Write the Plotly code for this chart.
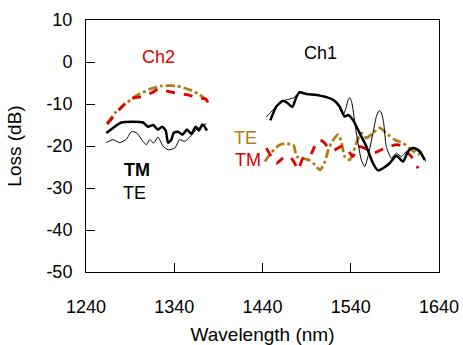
import plotly.graph_objects as go

# ---- data ----
ch2_tm_x = [1263.0, 1270.6, 1280.0, 1293.3, 1304.6, 1310.3, 1316.0, 1321.6, 1326.1, 1330.3, 1333.0, 1336.7,
            1339.3, 1344.2, 1349.2, 1354.4, 1359.4, 1364.3, 1368.0, 1371.9, 1377.1]
ch2_tm_y = [-16.9, -15.7, -14.4, -14.2, -14.4, -15.4, -15.0, -16.1, -15.4, -16.3, -19.2, -18.5,
            -16.9, -16.6, -17.3, -16.1, -17.1, -15.4, -16.3, -14.9, -16.3]

ch2_te_x = [1263.0, 1270.6, 1278.0, 1285.7, 1291.4, 1297.0, 1304.6, 1308.4, 1312.1, 1316.7, 1321.6, 1327.2,
            1333.0, 1340.5, 1346.1, 1351.8, 1357.5, 1365.0, 1376.4]
ch2_te_y = [-19.2, -18.5, -19.2, -18.4, -16.6, -16.8, -18.9, -19.7, -18.5, -19.3, -17.9, -20.0,
            -20.9, -20.5, -18.5, -18.9, -17.9, -16.1, -14.7]

ch2_te_dd_x = [1263.8, 1274.4, 1285.7, 1298.9, 1312.1, 1325.4, 1342.4, 1357.5, 1368.8, 1378.2]
ch2_te_dd_y = [-14.6, -11.8, -9.8, -7.8, -6.5, -5.7, -5.7, -6.6, -7.8, -9.4]

ch2_tm_d_x = [1264.0, 1274.4, 1283.8, 1293.3, 1304.6, 1314.0, 1321.6, 1333.0, 1346.0, 1355.6, 1366.9, 1375.6, 1380.0]
ch2_tm_d_y = [-14.8, -12.2, -10.0, -8.6, -8.2, -7.4, -6.5, -7.0, -7.6, -7.8, -8.6, -8.8, -10.4]

ch1_tm_x = [1448.9, 1455.7, 1463.2, 1468.0, 1473.8, 1478.3, 1482.0, 1489.7, 1504.8, 1519.9, 1527.4, 1533.1,
            1536.9, 1542.5, 1550.0, 1557.7, 1565.2, 1570.9, 1576.5, 1584.0, 1591.7, 1599.2, 1604.9,
            1610.5, 1618.0, 1623.8]
ch1_tm_y = [-13.9, -10.6, -9.2, -9.7, -10.7, -8.4, -7.2, -7.6, -8.0, -9.0, -10.6, -13.0,
            -12.6, -13.8, -16.9, -20.1, -24.1, -25.8, -25.3, -24.1, -22.3, -23.7, -21.3,
            -20.5, -21.3, -23.3]

ch1_te_x = [1444.3, 1451.9, 1459.5, 1467.0, 1474.6, 1482.0, 1497.2, 1512.3, 1523.7, 1531.2, 1534.5, 1537.0,
            1539.0, 1541.5, 1546.3, 1552.0, 1555.8, 1559.5, 1565.2, 1569.0, 1572.0, 1574.5, 1577.3,
            1580.3, 1586.0, 1591.7, 1597.3, 1603.0, 1610.5, 1618.0, 1624.9]
ch1_te_y = [-13.1, -11.4, -9.8, -9.0, -8.6, -7.4, -7.8, -8.2, -9.4, -12.6, -11.0, -9.0,
            -8.5, -10.0, -16.9, -23.3, -24.9, -22.5, -16.9, -13.0, -11.6, -12.0, -14.5,
            -20.1, -22.9, -21.7, -22.5, -21.3, -20.3, -20.9, -23.7]

ch1_te_dd_x = [1442.8, 1450.0, 1459.8, 1466.0, 1474.9, 1478.7, 1485.0, 1492.0, 1497.7, 1505.2, 1510.8,
               1514.6, 1520.3, 1526.0, 1529.7, 1533.1, 1538.8, 1542.5, 1546.3, 1552.0, 1557.7,
               1565.2, 1572.8, 1582.2, 1589.8, 1599.2, 1608.7, 1618.0]
ch1_te_dd_y = [-23.7, -21.5, -19.7, -19.5, -19.7, -22.5, -22.9, -23.3, -24.1, -25.7, -23.7,
               -20.9, -18.5, -17.3, -19.3, -22.5, -23.3, -21.7, -19.3, -16.9, -18.1,
               -16.9, -15.7, -17.3, -18.5, -19.3, -20.9, -22.1]

ch1_tm_d_x = [1444.3, 1450.0, 1455.7, 1463.2, 1470.8, 1476.5, 1480.2, 1485.9, 1493.4, 1499.1, 1504.8,
              1510.4, 1516.1, 1521.8, 1529.3, 1535.0, 1542.5, 1548.2, 1555.8, 1565.2, 1574.7,
              1584.1, 1593.5, 1601.0, 1608.7, 1616.3]
ch1_tm_d_y = [-20.5, -22.5, -24.1, -22.9, -22.5, -24.1, -25.7, -22.9, -22.5, -20.1, -18.5,
              -19.3, -20.9, -20.9, -20.1, -20.5, -22.5, -20.1, -20.5, -21.7, -20.9,
              -20.1, -19.7, -20.9, -22.5, -25.3]

x_ticks = [1240, 1340, 1440, 1540, 1640]
x_tick_labels = ["1240", "1340", "1440", "1540", "1640"]
y_ticks = [10, 0, -10, -20, -30, -40, -50]
y_tick_labels = ["10", "0", "-10", "-20", "-30", "-40", "-50"]

labels_text = ["Ch2", "Ch1", "<b>TM</b>", "TE", "TE", "TM"]
labels_x = [1322.0, 1506.1, 1298.0, 1295.5, 1421.1, 1423.6]
labels_y = [1.3, 2.1, -25.8, -31.2, -18.1, -23.3]

RED = "#e00000"
GOLD = "#b07d12"
BLACK = "#000000"
labels_color = [RED, BLACK, BLACK, BLACK, GOLD, RED]

FONT = "Arial, 'Liberation Sans', Helvetica, sans-serif"

fig = go.Figure()

def add(x, y, color, width, dash, shape="spline"):
    fig.add_trace(go.Scatter(x=x, y=y, mode="lines", showlegend=False, hoverinfo="skip",
                             line=dict(color=color, width=width, dash=dash, shape=shape, smoothing=0.6)))

add(ch2_te_dd_x, ch2_te_dd_y, GOLD, 2.8, "dashdot")
add(ch2_tm_d_x, ch2_tm_d_y, RED, 2.8, "dash")
add(ch2_te_x, ch2_te_y, BLACK, 1, "solid")
add(ch2_tm_x, ch2_tm_y, BLACK, 2.5, "solid")
add(ch1_te_dd_x, ch1_te_dd_y, GOLD, 2.8, "dashdot")
add(ch1_tm_d_x, ch1_tm_d_y, RED, 2.8, "dash")
add(ch1_te_x, ch1_te_y, BLACK, 1, "solid")
add(ch1_tm_x, ch1_tm_y, BLACK, 2.5, "solid")

for t, x, y, c in zip(labels_text, labels_x, labels_y, labels_color):
    fig.add_annotation(x=x, y=y, xref="x", yref="y", text=t, showarrow=False,
                       font=dict(family=FONT, size=18, color=c))

fig.update_layout(
    width=463, height=345,
    margin=dict(l=86, r=24, t=20, b=73),
    paper_bgcolor="white", plot_bgcolor="white",
    font=dict(family=FONT, size=18, color="black"),
)
fig.update_xaxes(range=[1240, 1640], tickvals=x_ticks, ticktext=x_tick_labels,
                 tickfont=dict(family=FONT, size=18, color="black"),
                 ticks="inside", ticklen=9, tickwidth=1, tickcolor="black",
                 showline=True, linecolor="black", linewidth=1, mirror=True,
                 showgrid=False, zeroline=False, ticklabelstandoff=18, automargin=False,
                 title=dict(text="Wavelength (nm)", font=dict(family=FONT, size=19), standoff=12))
fig.update_yaxes(range=[-50, 10], tickvals=y_ticks, ticktext=y_tick_labels,
                 tickfont=dict(family=FONT, size=18, color="black"),
                 ticks="inside", ticklen=9, tickwidth=1, tickcolor="black",
                 showline=True, linecolor="black", linewidth=1, mirror=True,
                 showgrid=False, zeroline=False, ticklabelstandoff=9, automargin=False,
                 title=dict(text="Loss (dB)", font=dict(family=FONT, size=19), standoff=19))

fig.write_html("out.html", config={"displayModeBar": False},
               post_script="document.body.style.margin='0';")
